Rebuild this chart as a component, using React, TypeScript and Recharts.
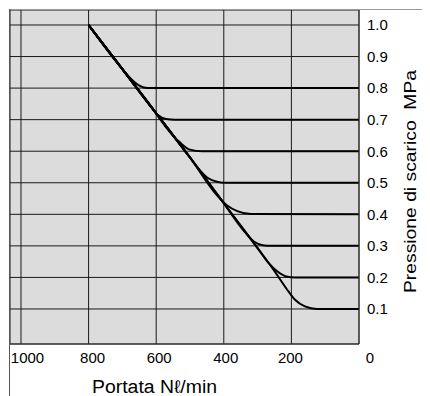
import React from "react";
import { LineChart, Line, XAxis, YAxis, CartesianGrid } from "recharts";

const xTicks = [1000, 800, 600, 400, 200, 0];
const yTicks = [0.1, 0.2, 0.3, 0.4, 0.5, 0.6, 0.7, 0.8, 0.9, 1.0];

const curve08 = [
  { x: 800, p: 1.0 }, { x: 700, p: 0.86 }, { x: 675, p: 0.83 }, { x: 650, p: 0.808 }, { x: 625, p: 0.8 }, { x: 0, p: 0.8 },
];
const curve07 = [
  { x: 800, p: 1.0 }, { x: 700, p: 0.86 }, { x: 620, p: 0.747 }, { x: 595, p: 0.715 }, { x: 570, p: 0.702 }, { x: 545, p: 0.7 }, { x: 0, p: 0.7 },
];
const curve06 = [
  { x: 800, p: 1.0 }, { x: 700, p: 0.86 }, { x: 600, p: 0.72 }, { x: 570, p: 0.675 }, { x: 530, p: 0.628 }, { x: 500, p: 0.605 }, { x: 465, p: 0.6 }, { x: 0, p: 0.6 },
];
const curve05 = [
  { x: 800, p: 1.0 }, { x: 700, p: 0.86 }, { x: 600, p: 0.72 }, { x: 500, p: 0.58 }, { x: 475, p: 0.545 }, { x: 447, p: 0.515 }, { x: 420, p: 0.503 }, { x: 400, p: 0.5 }, { x: 0, p: 0.5 },
];
const curve04 = [
  { x: 800, p: 1.0 }, { x: 700, p: 0.86 }, { x: 600, p: 0.72 }, { x: 500, p: 0.58 }, { x: 420, p: 0.46 }, { x: 390, p: 0.428 }, { x: 360, p: 0.41 }, { x: 320, p: 0.401 }, { x: 0, p: 0.4 },
];
const curve03 = [
  { x: 800, p: 1.0 }, { x: 700, p: 0.86 }, { x: 600, p: 0.72 }, { x: 500, p: 0.58 }, { x: 400, p: 0.435 }, { x: 340, p: 0.347 }, { x: 310, p: 0.313 }, { x: 285, p: 0.302 }, { x: 260, p: 0.3 }, { x: 0, p: 0.3 },
];
const curve02 = [
  { x: 800, p: 1.0 }, { x: 700, p: 0.86 }, { x: 600, p: 0.72 }, { x: 500, p: 0.58 }, { x: 400, p: 0.435 }, { x: 300, p: 0.293 }, { x: 265, p: 0.243 }, { x: 240, p: 0.218 }, { x: 215, p: 0.203 }, { x: 190, p: 0.2 }, { x: 0, p: 0.2 },
];
const curve01 = [
  { x: 800, p: 1.0 }, { x: 700, p: 0.86 }, { x: 600, p: 0.72 }, { x: 500, p: 0.58 }, { x: 400, p: 0.435 }, { x: 300, p: 0.293 }, { x: 250, p: 0.22 }, { x: 215, p: 0.165 }, { x: 190, p: 0.13 }, { x: 160, p: 0.108 }, { x: 125, p: 0.1 }, { x: 0, p: 0.1 },
];

const curves = [curve08, curve07, curve06, curve05, curve04, curve03, curve02, curve01];

const FONT = "'Liberation Sans', Arial, sans-serif";

const xOffsets: Record<number, number> = { 1000: 6.5, 800: 4, 600: 3, 400: 2, 200: -1, 0: 11 };

const XTick = (props: any) => {
  const { x, y, payload } = props;
  const v = payload.value;
  return (
    <text x={x + (xOffsets[v] ?? 0)} y={y + 11} textAnchor="middle" fontSize={15} fontFamily={FONT} fill="#000">
      {String(v)}
    </text>
  );
};

const XLabel = (props: any) => {
  const vb = props.viewBox;
  return (
    <text x={vb.x + 82} y={vb.y + 49} fontSize={18} fontFamily={FONT} fill="#000" textLength={125} lengthAdjust="spacingAndGlyphs">
      Portata Nℓ/min
    </text>
  );
};

const YLabel = (props: any) => {
  const vb = props.viewBox;
  const cx = vb.x + 51;
  const cy = vb.y + vb.height / 2 + 4.5;
  return (
    <text x={cx - 111.5} y={cy} dominantBaseline="central" fontSize={16} fontFamily={FONT} fill="#000" textLength={223} lengthAdjust="spacingAndGlyphs" transform={`rotate(-90 ${cx} ${cy})`}>
      {"Pressione di scarico\u00a0\u00a0MPa"}
    </text>
  );
};

export default function App() {
  return (
    <div style={{ position: "relative", width: 422, height: 388 }}>
      <LineChart width={422} height={388} margin={{ top: 2, left: 2, right: 0, bottom: 0 }}>
        <CartesianGrid fill="#dcdcdc" stroke="#1a1a1a" strokeWidth={1} />
        <XAxis
          type="number"
          dataKey="x"
          domain={[0, 1032.5]}
          reversed
          ticks={xTicks}
          interval={0}
          allowDataOverflow
          height={52}
          tickLine={false}
          axisLine={{ stroke: "#333" }}
          tick={<XTick />}
          label={<XLabel />}
        />
        <YAxis
          type="number"
          dataKey="p"
          orientation="right"
          domain={[-0.011, 1.0475]}
          ticks={yTicks}
          interval={0}
          allowDataOverflow
          width={71}
          tickLine={false}
          axisLine={{ stroke: "#333" }}
          tick={{ fontSize: 15, fontFamily: FONT, fill: "#000" }}
          tickFormatter={(v: number) => v.toFixed(1)}
          label={<YLabel />}
        />
        {curves.map((c, i) => (
          <Line
            key={i}
            data={c}
            dataKey="p"
            type="monotone"
            stroke="#000"
            strokeWidth={2}
            dot={false}
            activeDot={false}
            isAnimationActive={false}
          />
        ))}
      </LineChart>
      <div style={{ position: "absolute", left: 1, top: 1, width: 421, height: 1, background: "#999" }} />
      <div style={{ position: "absolute", left: 1, top: 1, width: 1, height: 387, background: "#555" }} />
    </div>
  );
}
